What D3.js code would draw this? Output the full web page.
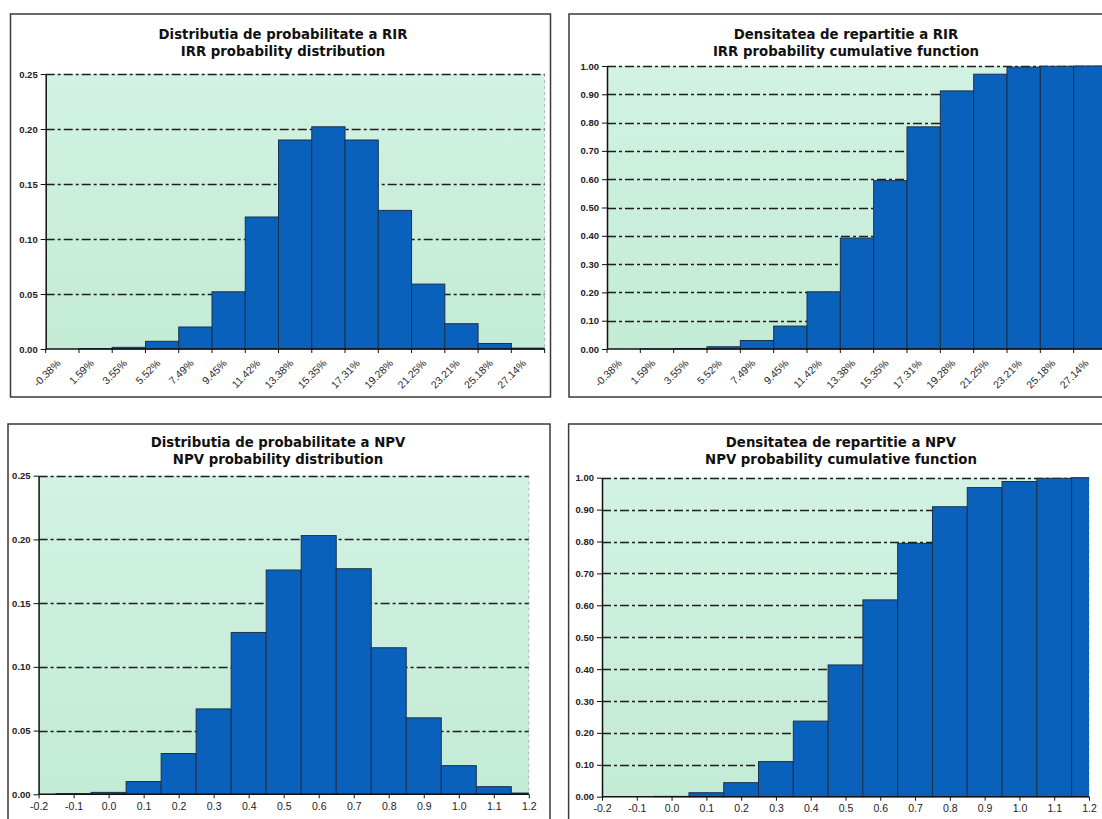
<!DOCTYPE html>
<html>
<head>
<meta charset="utf-8">
<script src="https://cdn.jsdelivr.net/npm/d3@7"></script>
<style>
  html, body { margin: 0; padding: 0; background: #ffffff; }
  svg { display: block; }
</style>
</head>
<body>
<svg id="chart" width="1102" height="819"></svg>
<script>
// ---------------- DATA ----------------
const irrCategories = ["-0.38%", "1.59%", "3.55%", "5.52%", "7.49%", "9.45%", "11.42%", "13.38%",
  "15.35%", "17.31%", "19.28%", "21.25%", "23.21%", "25.18%", "27.14%"];
const irrDistribution = [0, 0.0003, 0.0015, 0.007, 0.020, 0.052, 0.120, 0.190,
  0.202, 0.190, 0.126, 0.059, 0.023, 0.005, 0.0008];
const irrCumulative = [0, 0.0003, 0.0018, 0.008, 0.030, 0.081, 0.202, 0.392,
  0.595, 0.785, 0.912, 0.971, 0.996, 0.999, 1.000];

const npvValues = [-0.2, -0.1, 0.0, 0.1, 0.2, 0.3, 0.4, 0.5, 0.6, 0.7, 0.8, 0.9, 1.0, 1.1, 1.2];
const npvTickLabels = ["-0.2", "-0.1", "0.0", "0.1", "0.2", "0.3", "0.4", "0.5",
  "0.6", "0.7", "0.8", "0.9", "1.0", "1.1", "1.2"];
const npvDistribution = [0, 0.0005, 0.0015, 0.010, 0.032, 0.067, 0.127, 0.176,
  0.203, 0.177, 0.115, 0.060, 0.0225, 0.006, 0.001];
const npvCumulative = [0, 0, 0.001, 0.0125, 0.044, 0.110, 0.237, 0.413,
  0.617, 0.794, 0.909, 0.969, 0.988, 0.998, 1.000];

const distTicks = [0, 0.05, 0.10, 0.15, 0.20, 0.25];
const cumTicks = [0, 0.1, 0.2, 0.3, 0.4, 0.5, 0.6, 0.7, 0.8, 0.9, 1.0];

const titles = {
  irrDist: ["Distributia de probabilitate a RIR", "IRR probability distribution"],
  irrCum: ["Densitatea de repartitie a RIR", "IRR probability cumulative function"],
  npvDist: ["Distributia de probabilitate a NPV", "NPV probability distribution"],
  npvCum: ["Densitatea de repartitie a NPV", "NPV probability cumulative function"]
};

// ---------------- STYLE ----------------
const BAR_FILL = "#0a61bc";
const BAR_STROKE = "#1b3148";
const PLOT_TOP = "#d2f2e3";
const PLOT_BOTTOM = "#c3ebd5";
const GRID = "#1e1e1e";
const TITLE_FONT = "'DejaVu Sans', Verdana, sans-serif";
const TICK_FONT = "'Liberation Sans', Arial, sans-serif";

const svg = d3.select("#chart");
const defs = svg.append("defs");
const grad = defs.append("linearGradient").attr("id", "plotbg")
  .attr("x1", 0).attr("y1", 0).attr("x2", 0).attr("y2", 1);
grad.append("stop").attr("offset", "0%").attr("stop-color", PLOT_TOP);
grad.append("stop").attr("offset", "100%").attr("stop-color", PLOT_BOTTOM);

function drawPanel(cfg) {
  const g = svg.append("g");
  // outer frame
  g.append("rect")
    .attr("x", cfg.frame[0]).attr("y", cfg.frame[1])
    .attr("width", cfg.frame[2]).attr("height", cfg.frame[3])
    .attr("fill", "#ffffff").attr("stroke", "#3a3a3a").attr("stroke-width", 1.5);

  // title
  const tt = g.append("text")
    .attr("x", cfg.titleX).attr("y", cfg.titleY)
    .attr("text-anchor", "middle")
    .attr("font-family", TITLE_FONT).attr("font-weight", "bold")
    .attr("font-size", 13.3).attr("fill", "#111");
  cfg.title.forEach((line, i) => {
    tt.append("tspan").attr("x", cfg.titleX).attr("dy", i === 0 ? 0 : 17).text(line);
  });

  const [x0, x1] = cfg.xRange;
  const [yTop, yBot] = cfg.yRange;
  const y = d3.scaleLinear().domain([0, cfg.yMax]).range([yBot, yTop]);

  const clipId = "clip" + cfg.id;
  defs.append("clipPath").attr("id", clipId)
    .append("rect").attr("x", x0).attr("y", yTop - 2).attr("width", x1 - x0).attr("height", yBot - yTop + 4);

  // plot background
  g.append("rect").attr("x", x0).attr("y", yTop).attr("width", x1 - x0).attr("height", yBot - yTop)
    .attr("fill", "url(#plotbg)");
  // faint right border
  g.append("line").attr("x1", x1).attr("x2", x1).attr("y1", yTop).attr("y2", yBot)
    .attr("stroke", "#9aa8a0").attr("stroke-width", 0.8).attr("stroke-dasharray", "3,3");

  // gridlines
  g.append("g").selectAll("line").data(cfg.yTicks.filter(d => d > 0)).join("line")
    .attr("x1", x0).attr("x2", x1)
    .attr("y1", d => Math.round(y(d)) + 0.5).attr("y2", d => Math.round(y(d)) + 0.5)
    .attr("stroke", GRID).attr("stroke-width", 1.3)
    .attr("stroke-dasharray", "9,3,3,3");

  // bars
  const bars = g.append("g").attr("clip-path", `url(#${clipId})`);
  if (cfg.type === "band") {
    const x = d3.scaleBand().domain(cfg.categories).range([x0, x1]).paddingInner(0).paddingOuter(0);
    bars.selectAll("rect").data(cfg.values).join("rect")
      .attr("x", (d, i) => x(cfg.categories[i]))
      .attr("width", x.bandwidth())
      .attr("y", d => y(d))
      .attr("height", d => yBot - y(d))
      .attr("fill", BAR_FILL).attr("stroke", BAR_STROKE).attr("stroke-width", 1);

    // x axis: ticks at category boundaries
    const ax = g.append("g");
    const bounds = cfg.categories.map(c => x(c)).concat([x1]);
    ax.selectAll("line.t").data(bounds).join("line")
      .attr("x1", d => d).attr("x2", d => d).attr("y1", yBot).attr("y2", yBot + 4)
      .attr("stroke", "#111").attr("stroke-width", 1);
    ax.selectAll("text").data(cfg.categories).join("text")
      .attr("transform", c => `translate(${x(c) + x.bandwidth() / 2 - 1},${yBot + 15}) rotate(-45)`)
      .attr("text-anchor", "end")
      .attr("font-family", TICK_FONT).attr("font-size", 10.5).attr("fill", "#2a2a2a")
      .text(c => c);
  } else {
    const x = d3.scaleLinear().domain([cfg.values[0].v, cfg.values[cfg.values.length - 1].v]).range([x0, x1]);
    const half = 0.05;
    bars.selectAll("rect").data(cfg.values).join("rect")
      .attr("x", d => x(d.v - half))
      .attr("width", d => x(d.v + half) - x(d.v - half))
      .attr("y", d => y(d.p))
      .attr("height", d => yBot - y(d.p))
      .attr("fill", BAR_FILL).attr("stroke", BAR_STROKE).attr("stroke-width", 1);

    const ax = g.append("g").attr("transform", `translate(0,${yBot})`)
      .call(d3.axisBottom(x).tickValues(cfg.values.map(d => d.v))
        .tickFormat((d, i) => cfg.tickLabels[i]).tickSize(4).tickPadding(4).tickSizeOuter(0));
    ax.select(".domain").remove();
    ax.selectAll("line").attr("stroke", "#111");
    ax.selectAll("text").attr("font-family", TICK_FONT).attr("font-size", 10.5).attr("fill", "#222");
  }

  // axis lines
  g.append("line").attr("x1", x0).attr("x2", x1).attr("y1", yBot).attr("y2", yBot)
    .attr("stroke", "#111").attr("stroke-width", 1.5);
  const ay = g.append("g").attr("transform", `translate(${x0},0)`)
    .call(d3.axisLeft(y).tickValues(cfg.yTicks).tickFormat(d3.format(".2f"))
      .tickSize(5).tickPadding(3).tickSizeOuter(0));
  ay.select(".domain").attr("stroke", "#111").attr("stroke-width", 1.5);
  ay.selectAll("line").attr("stroke", "#111");
  ay.selectAll("text").attr("font-family", TICK_FONT).attr("font-weight", "bold")
    .attr("font-size", 9.5).attr("fill", "#222");
}

drawPanel({
  id: "a", type: "band", title: titles.irrDist,
  frame: [10.5, 14, 540, 383], titleX: 283, titleY: 39,
  xRange: [45.7, 544.6], yRange: [74, 349], yMax: 0.25, yTicks: distTicks,
  categories: irrCategories, values: irrDistribution
});
drawPanel({
  id: "b", type: "band", title: titles.irrCum,
  frame: [569, 14, 545, 383], titleX: 846, titleY: 39,
  xRange: [607, 1107], yRange: [66, 349], yMax: 1.0, yTicks: cumTicks,
  categories: irrCategories, values: irrCumulative
});
drawPanel({
  id: "c", type: "linear", title: titles.npvDist,
  frame: [8, 424, 542, 410], titleX: 278, titleY: 447,
  xRange: [38.6, 528.8], yRange: [475.7, 794.3], yMax: 0.25, yTicks: distTicks,
  values: npvValues.map((v, i) => ({ v, p: npvDistribution[i] })), tickLabels: npvTickLabels
});
drawPanel({
  id: "d", type: "linear", title: titles.npvCum,
  frame: [568.6, 424, 545, 410], titleX: 841, titleY: 447,
  xRange: [602, 1089], yRange: [477.7, 796.7], yMax: 1.0, yTicks: cumTicks,
  values: npvValues.map((v, i) => ({ v, p: npvCumulative[i] })), tickLabels: npvTickLabels
});
</script>
</body>
</html>
